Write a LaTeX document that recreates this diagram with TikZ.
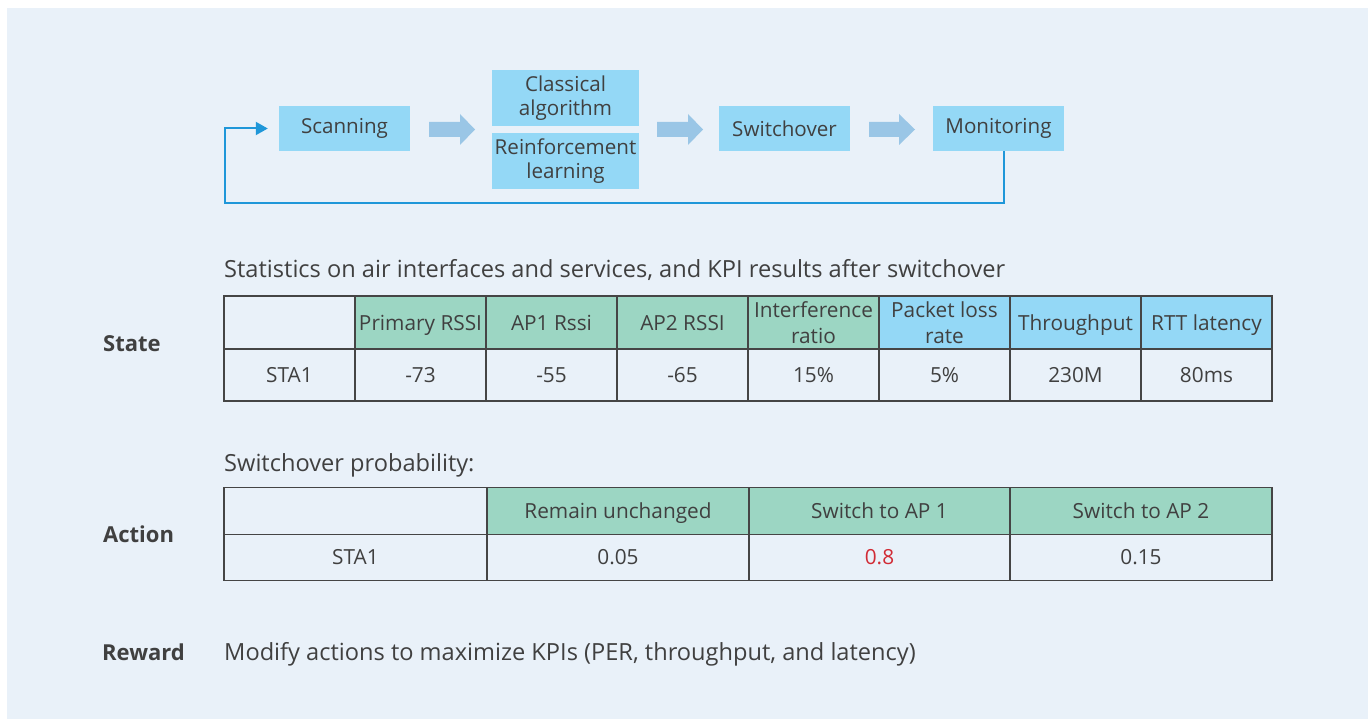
\documentclass[tikz,border=0pt]{standalone}
\usepackage{fontspec}
\setmainfont{Open Sans}
\usetikzlibrary{arrows.meta,calc}
\definecolor{pagebg}{HTML}{E9F1F9}
\definecolor{boxblue}{HTML}{94D8F6}
\definecolor{boxgreen}{HTML}{9CD6C3}
\definecolor{arrowblue}{HTML}{9AC6E6}
\definecolor{loopblue}{HTML}{1F97D9}
\definecolor{txt}{HTML}{404040}
\definecolor{gridc}{HTML}{454545}
\definecolor{hired}{HTML}{D12B35}
\tikzset{
  flowbox/.style={fill=boxblue, draw=none, inner sep=0pt, minimum width=131pt, minimum height=45pt, align=center, font=\fontsize{20.6}{24}\selectfont, text=txt},
  cell/.style={draw=gridc, line width=1.3pt, inner sep=0pt, minimum width=131pt, align=center, font=\fontsize{20.8}{25.5}\selectfont, text=txt},
  oneline/.style={text height=20pt, text depth=5pt},
  gcell/.style={cell, fill=boxgreen},
  bcell/.style={cell, fill=boxblue},
  gcellone/.style={gcell, oneline},
  bcellone/.style={bcell, oneline},
  wcell/.style={cell, fill=pagebg},
  blockarrow/.style={fill=arrowblue, draw=none},
  loopline/.style={draw=loopblue, line width=2pt, -{Triangle[length=12pt,width=13pt]}},
  plain/.style={anchor=base west, inner sep=0pt, text=txt, font=\fontsize{23.6}{28}\selectfont},
  sidelabel/.style={anchor=base west, inner sep=0pt, text=txt, font=\fontsize{22}{26}\selectfont\bfseries},
}
\begin{document}
\begin{tikzpicture}[x=1pt,y=-1pt]
\useasboundingbox (0,0) rectangle (1370,719);
\fill[white] (0,0) rectangle (1370,719);
\fill[pagebg] (7,8) rectangle (1368,719);

% flow
\node[flowbox] (scan) at (344.5,128.5) {Scanning};
\node[flowbox, minimum width=147pt, minimum height=56pt] (class) at (565.5,98) {Classical\\algorithm};
\node[flowbox, minimum width=147pt, minimum height=56pt] (reinf) at (565.5,161) {Reinforcement\\learning};
\node[flowbox] (switch) at (784.5,128.5) {Switchover};
\node[flowbox] (mon) at (998.5,128.5) {Monitoring};

\fill[blockarrow] (429,122) -- (460,122) -- (460,114) -- (475,129.5) -- (460,145) -- (460,137) -- (429,137) -- cycle;
\fill[blockarrow] (657,122) -- (688,122) -- (688,114) -- (703,129.5) -- (688,145) -- (688,137) -- (657,137) -- cycle;
\fill[blockarrow] (869,122) -- (899,122) -- (899,114) -- (915,129.5) -- (899,145) -- (899,137) -- (869,137) -- cycle;

\draw[loopline] ([xshift=5.5pt]mon.south) -- ++(0,52) -| ($(scan.west)+(-54,0)$) -- ([xshift=-11pt]scan.west);

% state
\node[plain] (stattitle) at (224,277) {Statistics on air interfaces and services, and KPI results after switchover};
\node[sidelabel] (state) at (103,351) {State};

\foreach \i/\t/\s in {0//wcell,1/Primary RSSI/gcellone,2/AP1 Rssi/gcellone,3/AP2 RSSI/gcellone,4/Interference\\ratio/gcell,5/Packet loss\\rate/bcell,6/Throughput/bcellone,7/RTT latency/bcellone}{
  \node[\s, minimum height=53pt] (sh\i) at (289.5+131*\i,322.5) {\t};
}
\foreach \i/\t in {0/STA1,1/-73,2/-55,3/-65,4/15\%,5/5\%,6/230M,7/80ms}{
  \node[wcell, minimum height=52pt] (sd\i) at (289.5+131*\i,375) {\t};
}

% action
\node[plain] (acttitle) at (224,471) {Switchover probability:};
\node[sidelabel] (action) at (103,542) {Action};
\node[wcell, minimum width=263pt, minimum height=47pt] (ah0) at (355.5,511) {};
\node[gcellone, minimum width=262pt, minimum height=47pt] (ah1) at (618,511) {Remain unchanged};
\node[gcellone, minimum width=261pt, minimum height=47pt] (ah2) at (879.5,511) {Switch to AP 1};
\node[gcellone, minimum width=262pt, minimum height=47pt] (ah3) at (1141,511) {Switch to AP 2};
\node[wcell, minimum width=263pt, minimum height=46pt] (ad0) at (355.5,557.5) {STA1};
\node[wcell, minimum width=262pt, minimum height=46pt] (ad1) at (618,557.5) {0.05};
\node[wcell, minimum width=261pt, minimum height=46pt, text=hired] (ad2) at (879.5,557.5) {0.8};
\node[wcell, minimum width=262pt, minimum height=46pt] (ad3) at (1141,557.5) {0.15};

% reward
\node[sidelabel] (reward) at (102,660) {Reward};
\node[plain] (rewtext) at (224,660) {Modify actions to maximize KPIs (PER, throughput, and latency)};
\end{tikzpicture}
\end{document}
